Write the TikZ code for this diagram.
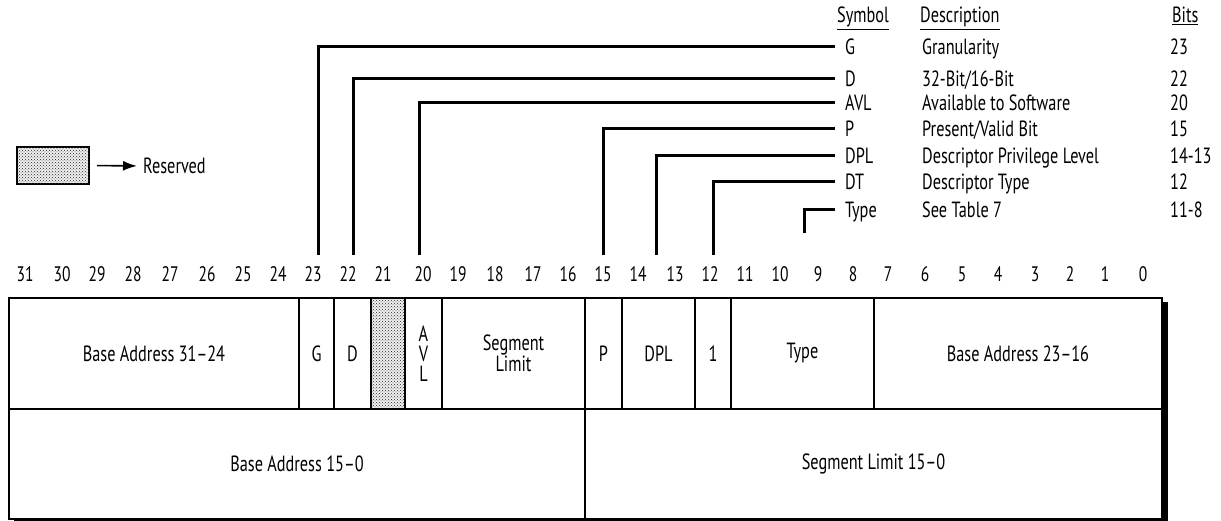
\documentclass[tikz,border=0pt]{standalone}
\usepackage{fontspec}
\setmainfont{PT Sans}[FakeStretch=0.74]
\usetikzlibrary{patterns,arrows.meta}
\begin{document}
\begin{tikzpicture}[x=1pt,y=-1pt,
  cell/.style={draw, line width=2pt, fill=white, anchor=north west, inner sep=0pt, align=center},
  dots/.style={fill=black!6, postaction={pattern=crosshatch dots, pattern color=black!85}},
  lbl/.style={inner sep=0pt, anchor=base west},
  bitnum/.style={inner sep=0pt, font=\fontsize{21}{21}\selectfont},
  conn/.style={line width=3pt},
  font=\fontsize{22}{22}\selectfont]
\useasboundingbox (0,0) rectangle (1221,521);

% shadow
\fill (14,302) rectangle (1168,521);

% top row cells
\node[cell, minimum width=290pt, minimum height=111pt] (ba3124) at (8,297) {Base Address 31--24};
\node[cell, minimum width=35pt, minimum height=111pt] (cG) at (298,297) {G};
\node[cell, minimum width=37pt, minimum height=111pt] (cD) at (333,297) {D};
\node[cell, minimum width=34pt, minimum height=111pt, dots] (cRes) at (370,297) {};
\node[cell, minimum width=37pt, minimum height=111pt, font=\fontsize{22}{20}\selectfont] (cAVL) at (404,297) {A\\V\\L};
\node[cell, minimum width=143pt, minimum height=111pt, font=\fontsize{22}{20}\selectfont] (cSL) at (441,297) {Segment\\Limit};
\node[cell, minimum width=37pt, minimum height=111pt] (cP) at (584,297) {P};
\node[cell, minimum width=73pt, minimum height=111pt] (cDPL) at (621,297) {DPL};
\node[cell, minimum width=36pt, minimum height=111pt] (cOne) at (694,297) {1};
\node[cell, minimum width=143pt, minimum height=111pt] (cType) at (730,297) {Type};
\node[cell, minimum width=288pt, minimum height=111pt] (ba2316) at (873,297) {Base Address 23--16};
% bottom row cells
\node[cell, minimum width=576pt, minimum height=110pt] (ba150) at (8,408) {Base Address 15--0};
\node[cell, minimum width=577pt, minimum height=110pt] (sl150) at (584,408) {Segment Limit 15--0};

% bit numbers
\foreach \b/\x in {31/25,30/62,29/97,28/133,27/170,26/207,25/243,24/278,23/313,22/348,21/383,20/423,19/458,18/495,17/533,16/568,15/603,14/638,13/675,12/710,11/745,10/780,9/818,8/853,7/888,6/925,5/962,4/998,3/1035,2/1070,1/1105,0/1143}
  \node[bitnum] (b\b) at (\x,274) {\b};

% legend for reserved
\node[draw, line width=2pt, minimum width=72pt, minimum height=37pt, anchor=north west, inner sep=0pt, dots] (legbox) at (16,146) {};
\node[inner sep=0pt, anchor=west] (legtxt) at (143,166) {Reserved};
\draw[line width=1.6pt, -{Latex[length=14pt,width=10pt]}, shorten <=7pt, shorten >=6pt] (legbox.east) -- (legtxt.west);

% table headers
\node[lbl] (hSym) at (837,23) {\underline{Symbol}};
\node[lbl] (hDesc) at (920,23) {\underline{Description}};
\node[lbl] (hBits) at (1172,23) {\underline{Bits}};

% legend rows
\foreach \n/\s/\d/\bt/\y in {G/G/Granularity/23/47, D/D/32-Bit\slash 16-Bit/22/79, AVL/AVL/Available to Software/20/103, P/P/Present\slash Valid Bit/15/129, DPL/DPL/Descriptor Privilege Level/14-13/156, DT/DT/Descriptor Type/12/182, Type/Type/See Table 7/11-8/210}{
  \node[lbl] (s\n) at (845,\y+8) {\s};
  \node[lbl] (d\n) at (922,\y+8) {\d};
  \node[lbl] (n\n) at (1170,\y+8) {\bt};
}

% connector free ends
\coordinate (eG) at (318,255);
\coordinate (eD) at (353,255);
\coordinate (eAVL) at (419,255);
\coordinate (eP) at (603,255);
\coordinate (eDPL) at (656,255);
\coordinate (eDT) at (713,255);
\coordinate (eType) at (804,233);

\foreach \n/\y in {G/47, D/79, AVL/103, P/129, DPL/156, DT/182, Type/210}
  \draw[conn] (835,\y) -| (e\n);
\end{tikzpicture}
\end{document}
